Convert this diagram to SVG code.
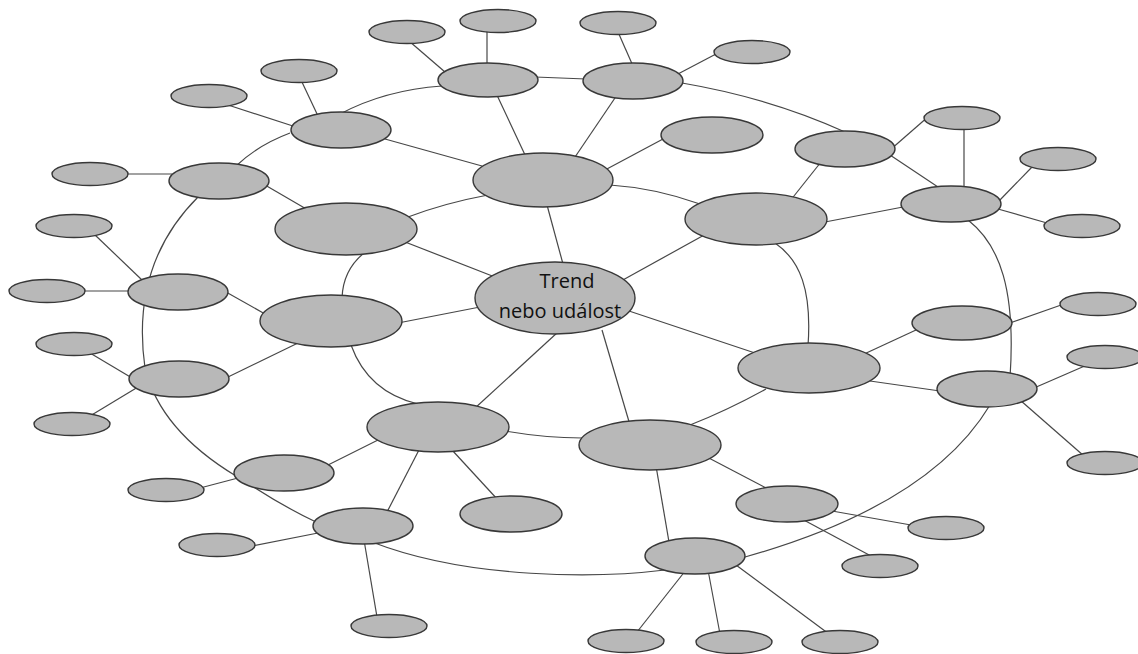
<svg xmlns="http://www.w3.org/2000/svg" width="1138" height="654" viewBox="0 0 1138 654">
<style>
.n{fill:#b8b8b8;stroke:#383838;stroke-width:1.4}
.c line,.c path{stroke:#474747;stroke-width:1.2;fill:none}
.t{font-family:"Open Sans","Noto Sans",sans-serif;font-size:20px;fill:#111}
</style>
<rect width="1138" height="654" fill="#ffffff"/>
<g id="connectors" class="c">
<!-- center -->
<line x1="547" y1="205" x2="563" y2="264"/>
<line x1="706" y1="234" x2="612" y2="286"/>
<line x1="620" y1="308" x2="755" y2="353"/>
<line x1="602" y1="330" x2="630" y2="425"/>
<line x1="558" y1="332" x2="474" y2="409"/>
<line x1="398" y1="323" x2="480" y2="307"/>
<line x1="400" y1="240" x2="500" y2="279"/>
<!-- level 1 to level 2 -->
<line x1="496" y1="93" x2="526" y2="157"/>
<line x1="617" y1="95" x2="573" y2="160"/>
<line x1="663" y1="139" x2="605" y2="170"/>
<line x1="385" y1="139" x2="482" y2="166"/>
<line x1="265" y1="185" x2="308" y2="210"/>
<line x1="226" y1="292" x2="265" y2="314"/>
<line x1="228" y1="377" x2="298" y2="343"/>
<line x1="380" y1="439" x2="326" y2="466"/>
<line x1="420" y1="448" x2="386" y2="514"/>
<line x1="452" y1="450" x2="498" y2="500"/>
<line x1="656" y1="466" x2="669" y2="542"/>
<line x1="705" y1="456" x2="768" y2="489"/>
<line x1="870" y1="381" x2="940" y2="391"/>
<line x1="862" y1="355" x2="916" y2="330"/>
<line x1="825" y1="222" x2="903" y2="207"/>
<line x1="821" y1="162" x2="790" y2="201"/>
<!-- level 2 to leaves -->
<line x1="409" y1="41" x2="445" y2="72"/>
<line x1="487" y1="30" x2="487" y2="65"/>
<line x1="618" y1="32" x2="633" y2="66"/>
<line x1="716" y1="54" x2="676" y2="75"/>
<line x1="301" y1="80" x2="318" y2="116"/>
<line x1="228" y1="105" x2="296" y2="127"/>
<line x1="126" y1="174" x2="172" y2="174"/>
<line x1="94" y1="234" x2="142" y2="280"/>
<line x1="83" y1="291" x2="131" y2="291"/>
<line x1="90" y1="353" x2="132" y2="378"/>
<line x1="90" y1="416" x2="138" y2="387"/>
<line x1="200" y1="488" x2="238" y2="478"/>
<line x1="252" y1="546" x2="318" y2="533"/>
<line x1="364" y1="540" x2="377" y2="617"/>
<line x1="686" y1="570" x2="637" y2="632"/>
<line x1="708" y1="570" x2="720" y2="634"/>
<line x1="736" y1="565" x2="829" y2="634"/>
<line x1="832" y1="511" x2="911" y2="525"/>
<line x1="800" y1="518" x2="871" y2="556"/>
<line x1="1020" y1="400" x2="1084" y2="456"/>
<line x1="1034" y1="388" x2="1087" y2="365"/>
<line x1="1010" y1="323" x2="1064" y2="304"/>
<line x1="998" y1="209" x2="1047" y2="223"/>
<line x1="998" y1="202" x2="1033" y2="166"/>
<line x1="964" y1="126" x2="964" y2="189"/>
<line x1="890" y1="150" x2="929" y2="116"/>
<!-- inner ring -->
<path d="M610,185 Q655,188 700,204"/>
<path d="M775,243 C800,260 812,290 808,346"/>
<path d="M766,389 Q728,410 690,425"/>
<path d="M505,431 Q545,438 582,438"/>
<path d="M351,345 Q368,392 418,404"/>
<path d="M342,298 Q343,270 364,253"/>
<path d="M408,217 Q445,203 488,195"/>
<!-- outer ring -->
<line x1="535" y1="77" x2="586" y2="79"/>
<path d="M682,83 Q770,98 845,132"/>
<line x1="890" y1="155" x2="938" y2="187"/>
<path d="M968,220 C1000,245 1016,290 1010,378"/>
<path d="M990,405 Q930,505 745,557"/>
<path d="M665,570 C600,578 470,580 372,542"/>
<path d="M316,522 Q280,505 240,478"/>
<path d="M198,197 C150,245 136,305 145,368 Q160,430 236,476"/>
<path d="M236,166 Q258,145 290,133"/>
<path d="M340,114 Q385,90 442,86"/>
</g>
<g id="center"><ellipse class="n" cx="555" cy="298" rx="80" ry="36"/>
<text class="t" x="567" y="288" text-anchor="middle">Trend</text>
<text class="t" x="560" y="318" text-anchor="middle">nebo událost</text></g>
<g id="A"><ellipse class="n" cx="543" cy="180" rx="70" ry="27"/></g>
<g id="B"><ellipse class="n" cx="346" cy="229" rx="71" ry="26"/></g>
<g id="C"><ellipse class="n" cx="331" cy="321" rx="71" ry="26"/></g>
<g id="D"><ellipse class="n" cx="438" cy="427" rx="71" ry="25"/></g>
<g id="E"><ellipse class="n" cx="650" cy="445" rx="71" ry="25"/></g>
<g id="F"><ellipse class="n" cx="809" cy="368" rx="71" ry="25"/></g>
<g id="G"><ellipse class="n" cx="756" cy="219" rx="71" ry="26"/></g>
<g id="O1"><ellipse class="n" cx="488" cy="80" rx="50" ry="17"/></g>
<g id="O2"><ellipse class="n" cx="633" cy="81" rx="50" ry="18"/></g>
<g id="O3"><ellipse class="n" cx="341" cy="130" rx="50" ry="18"/></g>
<g id="O4"><ellipse class="n" cx="219" cy="181" rx="50" ry="18"/></g>
<g id="O5"><ellipse class="n" cx="178" cy="292" rx="50" ry="18"/></g>
<g id="O6"><ellipse class="n" cx="179" cy="379" rx="50" ry="18"/></g>
<g id="O7"><ellipse class="n" cx="284" cy="473" rx="50" ry="18"/></g>
<g id="O8"><ellipse class="n" cx="363" cy="526" rx="50" ry="18"/></g>
<g id="O9"><ellipse class="n" cx="695" cy="556" rx="50" ry="18"/></g>
<g id="O10"><ellipse class="n" cx="787" cy="504" rx="51" ry="18"/></g>
<g id="O11"><ellipse class="n" cx="987" cy="389" rx="50" ry="18"/></g>
<g id="O12"><ellipse class="n" cx="962" cy="323" rx="50" ry="17"/></g>
<g id="O13"><ellipse class="n" cx="951" cy="204" rx="50" ry="18"/></g>
<g id="O14"><ellipse class="n" cx="845" cy="149" rx="50" ry="18"/></g>
<g id="L7"><ellipse class="n" cx="712" cy="135" rx="51" ry="18"/></g>
<g id="L15"><ellipse class="n" cx="511" cy="514" rx="51" ry="18"/></g>
<g id="L1"><ellipse class="n" cx="407" cy="32" rx="38" ry="11.5"/></g>
<g id="L2"><ellipse class="n" cx="498" cy="21" rx="38" ry="11.5"/></g>
<g id="L3"><ellipse class="n" cx="618" cy="23" rx="38" ry="11.5"/></g>
<g id="L4"><ellipse class="n" cx="752" cy="52" rx="38" ry="11.5"/></g>
<g id="L5"><ellipse class="n" cx="299" cy="71" rx="38" ry="11.5"/></g>
<g id="L6"><ellipse class="n" cx="209" cy="96" rx="38" ry="11.5"/></g>
<g id="L8"><ellipse class="n" cx="90" cy="174" rx="38" ry="11.5"/></g>
<g id="L9"><ellipse class="n" cx="74" cy="226" rx="38" ry="11.5"/></g>
<g id="L10"><ellipse class="n" cx="47" cy="291" rx="38" ry="11.5"/></g>
<g id="L11"><ellipse class="n" cx="74" cy="344" rx="38" ry="11.5"/></g>
<g id="L12"><ellipse class="n" cx="72" cy="424" rx="38" ry="11.5"/></g>
<g id="L13"><ellipse class="n" cx="166" cy="490" rx="38" ry="11.5"/></g>
<g id="L14"><ellipse class="n" cx="217" cy="545" rx="38" ry="11.5"/></g>
<g id="L16"><ellipse class="n" cx="389" cy="626" rx="38" ry="11.5"/></g>
<g id="L17"><ellipse class="n" cx="626" cy="641" rx="38" ry="11.5"/></g>
<g id="L18"><ellipse class="n" cx="734" cy="642" rx="38" ry="11.5"/></g>
<g id="L19"><ellipse class="n" cx="840" cy="642" rx="38" ry="11.5"/></g>
<g id="L20"><ellipse class="n" cx="946" cy="528" rx="38" ry="11.5"/></g>
<g id="L21"><ellipse class="n" cx="880" cy="566" rx="38" ry="11.5"/></g>
<g id="L22"><ellipse class="n" cx="1105" cy="463" rx="38" ry="11.5"/></g>
<g id="L23"><ellipse class="n" cx="1105" cy="357" rx="38" ry="11.5"/></g>
<g id="L24"><ellipse class="n" cx="1098" cy="304" rx="38" ry="11.5"/></g>
<g id="L25"><ellipse class="n" cx="1082" cy="226" rx="38" ry="11.5"/></g>
<g id="L26"><ellipse class="n" cx="1058" cy="159" rx="38" ry="11.5"/></g>
<g id="L27"><ellipse class="n" cx="962" cy="118" rx="38" ry="11.5"/></g>
</svg>
